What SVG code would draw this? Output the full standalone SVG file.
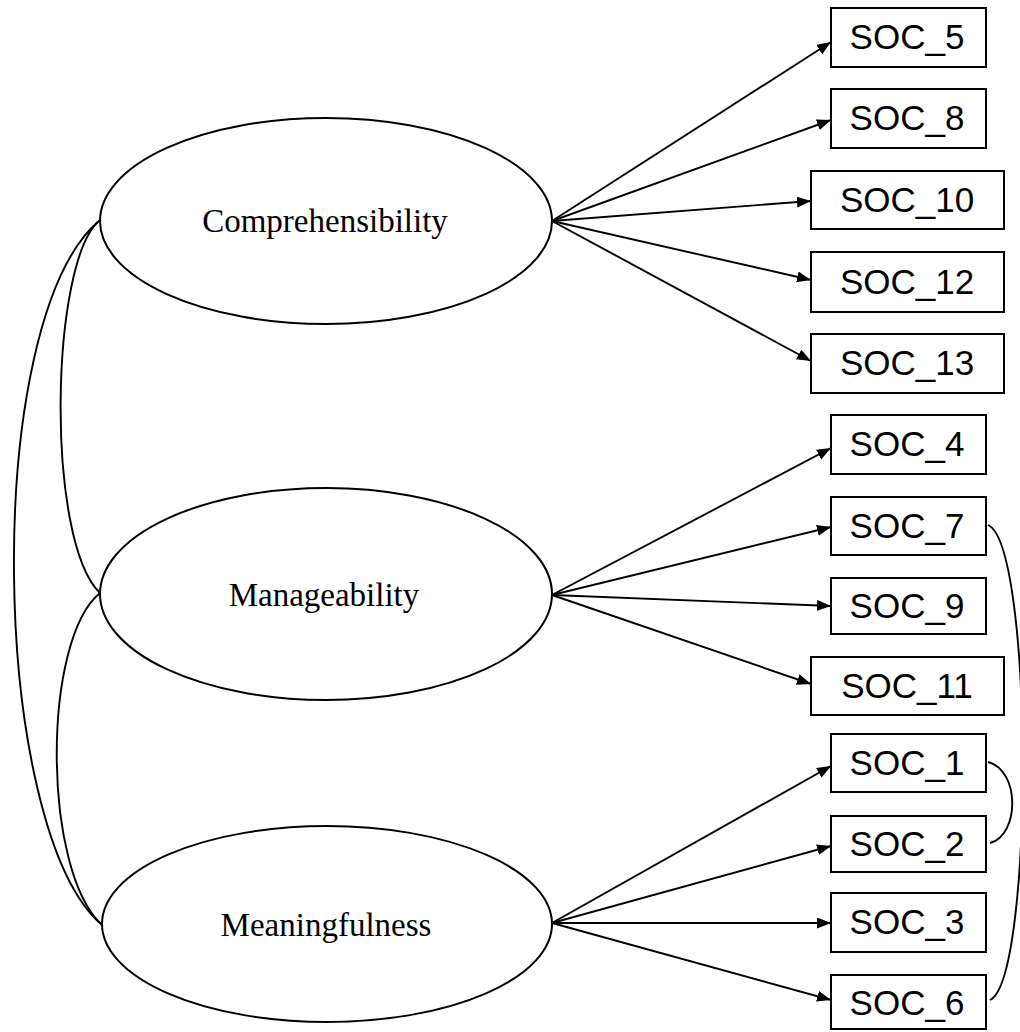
<svg xmlns="http://www.w3.org/2000/svg" width="1020" height="1032" viewBox="0 0 1020 1032">
<style>
.lat ellipse{fill:#fff;stroke:#000;stroke-width:2}
.lat text{font-family:"Liberation Serif","Times New Roman",serif;font-size:33px;text-anchor:middle;fill:#000}
.obs rect{fill:#fff;stroke:#000;stroke-width:2}
.obs text{font-family:"Liberation Sans",Arial,sans-serif;font-size:35px;text-anchor:middle;fill:#000}
.arr{stroke:#000;stroke-width:1.9;fill:none;marker-end:url(#ah)}
.cov{stroke:#000;stroke-width:1.9;fill:none}
</style>
<defs>
<marker id="ah" markerUnits="userSpaceOnUse" markerWidth="15" markerHeight="12" refX="14" refY="5.5" orient="auto">
<path d="M0,0 L14,5.5 L0,11 z" fill="#000"/>
</marker>
</defs>
<rect width="1020" height="1032" fill="#fff"/>
<g id="connectors">
<path class="cov" d="M100,220 C50,260 45,540 100,593"/>
<path class="cov" d="M100,220 C-20,320 -10,830 102,925"/>
<path class="cov" d="M100,593 C42,640 42,870 102,925"/>
<path class="cov" d="M988,525 C1034,545 1034,980 990,1000"/>
<path class="cov" d="M988,762 C1020,770 1020,835 990,843"/>
<line class="arr" x1="552" y1="221" x2="831" y2="42"/>
<line class="arr" x1="552" y1="221" x2="831" y2="120"/>
<line class="arr" x1="552" y1="221" x2="811" y2="201"/>
<line class="arr" x1="552" y1="221" x2="811" y2="280"/>
<line class="arr" x1="552" y1="221" x2="811" y2="361"/>
<line class="arr" x1="552" y1="595" x2="831" y2="448"/>
<line class="arr" x1="552" y1="595" x2="831" y2="527"/>
<line class="arr" x1="552" y1="595" x2="831" y2="606"/>
<line class="arr" x1="552" y1="595" x2="811" y2="684"/>
<line class="arr" x1="552" y1="923" x2="831" y2="766"/>
<line class="arr" x1="552" y1="923" x2="831" y2="846"/>
<line class="arr" x1="552" y1="923" x2="831" y2="923"/>
<line class="arr" x1="552" y1="923" x2="831" y2="1000"/>
</g>
<g id="comprehensibility" class="lat"><ellipse cx="326" cy="221" rx="226" ry="103"/><text x="325" y="232">Comprehensibility</text></g>
<g id="manageability" class="lat"><ellipse cx="326" cy="594" rx="226" ry="106"/><text x="324" y="606">Manageability</text></g>
<g id="meaningfulness" class="lat"><ellipse cx="327" cy="924" rx="225" ry="98"/><text x="326" y="936">Meaningfulness</text></g>
<g id="soc5" class="obs"><rect x="831" y="8" width="155" height="59"/><text x="907" y="49">SOC_5</text></g>
<g id="soc8" class="obs"><rect x="831" y="89" width="155" height="59"/><text x="907" y="130">SOC_8</text></g>
<g id="soc10" class="obs"><rect x="811" y="171" width="193" height="58"/><text x="907" y="212">SOC_10</text></g>
<g id="soc12" class="obs"><rect x="811" y="252" width="193" height="60"/><text x="907" y="294">SOC_12</text></g>
<g id="soc13" class="obs"><rect x="811" y="334" width="193" height="59"/><text x="907" y="375">SOC_13</text></g>
<g id="soc4" class="obs"><rect x="831" y="415" width="155" height="59"/><text x="907" y="456">SOC_4</text></g>
<g id="soc7" class="obs"><rect x="831" y="497" width="155" height="58"/><text x="907" y="538">SOC_7</text></g>
<g id="soc9" class="obs"><rect x="831" y="578" width="155" height="56"/><text x="907" y="618">SOC_9</text></g>
<g id="soc11" class="obs"><rect x="811" y="657" width="193" height="58"/><text x="907" y="698">SOC_11</text></g>
<g id="soc1" class="obs"><rect x="831" y="734" width="155" height="58"/><text x="907" y="775">SOC_1</text></g>
<g id="soc2" class="obs"><rect x="831" y="816" width="155" height="56"/><text x="907" y="856">SOC_2</text></g>
<g id="soc3" class="obs"><rect x="831" y="893" width="155" height="59"/><text x="907" y="934">SOC_3</text></g>
<g id="soc6" class="obs"><rect x="831" y="975" width="155" height="54"/><text x="907" y="1015">SOC_6</text></g>
</svg>
